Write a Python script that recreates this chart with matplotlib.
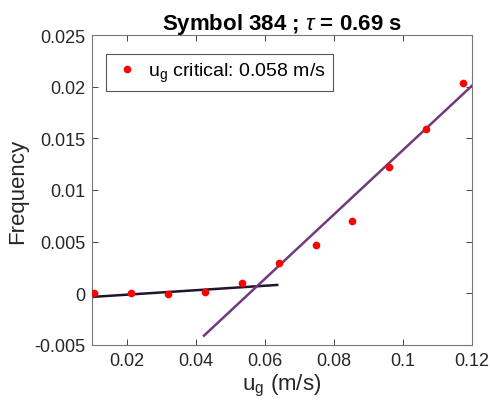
import numpy as np
import matplotlib.pyplot as plt
from matplotlib.ticker import FuncFormatter

plt.rcParams['font.family'] = ['Liberation Sans', 'DejaVu Sans']
plt.rcParams['mathtext.fontset'] = 'custom'
plt.rcParams['mathtext.it'] = 'Liberation Sans:italic'
plt.rcParams['mathtext.rm'] = 'Liberation Sans'

# measured points
ug = [0.0105, 0.0213, 0.0320, 0.0427, 0.0533, 0.0640, 0.0747, 0.0853, 0.0960, 0.1067, 0.1173]
freq = [0.0000, 0.0000, -0.0001, 0.0001, 0.0010, 0.0029, 0.0047, 0.0070, 0.0122, 0.0159, 0.0204]

# fitted lines (end points)
low_x = [0.0100, 0.0636]
low_y = [-0.00035, 0.00081]
high_x = [0.0424, 0.1200]
high_y = [-0.0041, 0.0201]

fig = plt.figure(figsize=(4.9, 4.14), dpi=100)
ax = fig.add_axes([0.1878, 0.1643, 0.9633 - 0.1878, 0.913 - 0.1643])

ax.plot(low_x, low_y, color='#22152c', lw=1.8, zorder=2)
ax.plot(high_x, high_y, color='#73397f', lw=1.8, zorder=2)
ax.plot(ug, freq, 'o', color='#ff0000', ms=5.5, mec='none', zorder=3,
        label=r'u$_\mathregular{g}$ critical: 0.058 m/s')

ax.set_xlim(0.01, 0.12)
ax.set_ylim(-0.005, 0.025)
ax.set_xticks([0.02, 0.04, 0.06, 0.08, 0.1, 0.12])
ax.set_yticks([-0.005, 0, 0.005, 0.01, 0.015, 0.02, 0.025])
fmt = FuncFormatter(lambda v, p: ('%.3f' % v).rstrip('0').rstrip('.') if abs(v) > 1e-12 else '0')
ax.xaxis.set_major_formatter(fmt)
ax.yaxis.set_major_formatter(fmt)
ax.tick_params(direction='in', top=True, right=True, length=4, width=0.6,
               colors='#262626', labelsize=13, pad=5)
for s in ax.spines.values():
    s.set_color('#777777')
    s.set_linewidth(0.8)

ax.set_xlabel(r'u$_\mathregular{g}$ (m/s)', fontsize=16, color='#262626', labelpad=2)
ax.set_ylabel('Frequency', fontsize=16, color='#262626', labelpad=4)
ax.set_title(r'Symbol 384 ; $\tau$ = 0.69 s', fontsize=16, fontweight='bold', pad=4)

leg = ax.legend(loc='upper left', bbox_to_anchor=(0.012, 0.97), fontsize=14,
                fancybox=False, framealpha=1, edgecolor='#555555', handlelength=1.4,
                handletextpad=0.4, borderpad=0.35)
leg.get_frame().set_linewidth(0.8)

fig.savefig('out.png', dpi=100)
